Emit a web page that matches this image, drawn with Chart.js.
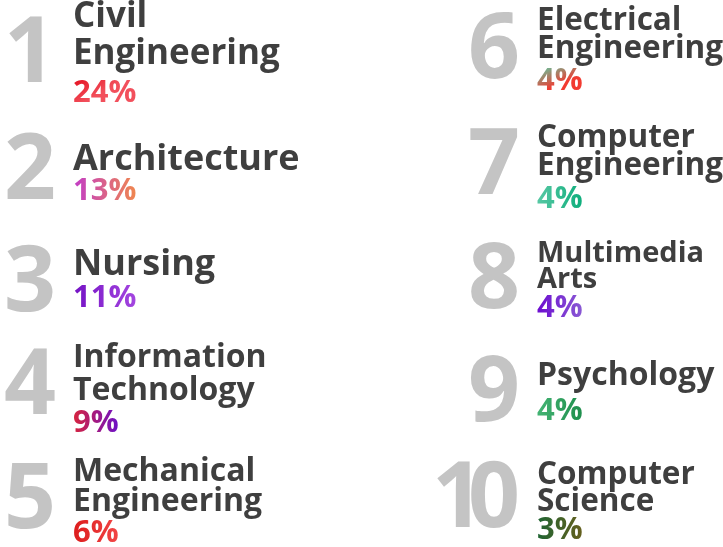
<!DOCTYPE html>
<html>
<head>
<meta charset="utf-8">
<script src="https://cdn.jsdelivr.net/npm/chart.js@4/dist/chart.umd.min.js"></script>
<style>
html,body{margin:0;padding:0;background:#fff;}
#wrap{width:723px;height:547px;position:relative;}
</style>
</head>
<body>
<div id="wrap"><canvas id="c"></canvas></div>
<script>
// ---- data ----
const ranks = [1, 2, 3, 4, 5, 6, 7, 8, 9, 10];
const majors = [
  "Civil Engineering",
  "Architecture",
  "Nursing",
  "Information Technology",
  "Mechanical Engineering",
  "Electrical Engineering",
  "Computer Engineering",
  "Multimedia Arts",
  "Psychology",
  "Computer Science"
];
const shares = [24, 13, 11, 9, 6, 4, 4, 4, 4, 3];

// ---- styles (not data) ----
const nameSizes  = [35, 36, 36, 32, 32, 31.5, 31.5, 29, 32, 31.5];
const lineGaps   = [37, 33, 33, 33, 30, 28, 28, 26, 28, 27];
const pctGaps    = [38, 30, 32, 32, 31, 32, 33, 29, 35, 28];
const blockShift = [0, 8, 2, 0, 0, -3, 2, 3, 3, 0];
const numShift   = [-2, 3, 3, -6, -4, -6, -2, 0, 1, -5];
const pctGradients = [
  ["#e41020", "#f2505c", "v"],
  ["#c23cc8", "#f0874e", "h"],
  ["#7412c4", "#a446e0", "h"],
  ["#d8243c", "#6c10c8", "h"],
  ["#dc1c1c", "#f24646", "h"],
  ["#5ec8a0", "#f23a30", "v"],
  ["#58c8a4", "#0eae7c", "h"],
  ["#6c0cd0", "#8a5ad4", "h"],
  ["#44b474", "#1e8e4c", "h"],
  ["#1e6432", "#66601e", "h"]
];
const numColor = "#c4c4c4";
const nameColor = "#3f3f3f";
const NAME_FONT = "'Open Sans', sans-serif";

const points = ranks.map(r => ({ x: r <= 5 ? 0 : 1, y: (r - 1) % 5 }));

function splitName(s) {
  const parts = s.split(" ");
  if (parts.length === 1) return parts;
  return [parts[0], parts.slice(1).join(" ")];
}

const textPlugin = {
  id: 'rankText',
  afterDatasetsDraw(chart) {
    const ctx = chart.ctx;
    const meta = chart.getDatasetMeta(0);
    meta.data.forEach((pt, i) => {
      const x = pt.x, cy = pt.y;
      const fs = nameSizes[i];
      const lines = splitName(majors[i]);
      const lh = lineGaps[i];
      const pctGap = pctGaps[i];
      const capH = fs * 0.714;
      const blockH = capH + (lines.length - 1) * lh + pctGap;
      const b1 = cy - blockH / 2 + capH + blockShift[i];
      ctx.save();
      ctx.textBaseline = "alphabetic";
      // rank number
      ctx.font = "700 91px " + NAME_FONT;
      ctx.fillStyle = numColor;
      ctx.textAlign = "left";
      const label = String(ranks[i]);
      const ls = -16;
      let widths = [...label].map(ch => ctx.measureText(ch).width);
      let total = widths.reduce((a, b) => a + b, 0) + ls * (label.length - 1);
      let nx = x - 17 - total;
      [...label].forEach((ch, k) => {
        ctx.fillText(ch, nx, cy + 32 + numShift[i]);
        nx += widths[k] + ls;
      });
      // name
      ctx.font = "700 " + fs + "px " + NAME_FONT;
      ctx.fillStyle = nameColor;
      lines.forEach((ln, k) => ctx.fillText(ln, x, b1 + k * lh));
      // percent
      const pb = b1 + (lines.length - 1) * lh + pctGap;
      ctx.font = "700 31px " + NAME_FONT;
      const txt = shares[i] + "%";
      const w = ctx.measureText(txt).width;
      const g = pctGradients[i];
      const grad = g[2] === "v"
        ? ctx.createLinearGradient(x, pb - 22, x + w * 0.2, pb)
        : ctx.createLinearGradient(x, pb, x + w, pb);
      grad.addColorStop(0, g[0]);
      grad.addColorStop(1, g[1]);
      ctx.fillStyle = grad;
      ctx.fillText(txt, x, pb);
      ctx.restore();
    });
  }
};

new Chart(document.getElementById('c'), {
  type: 'scatter',
  data: {
    datasets: [{
      label: 'Share of graduates',
      data: points,
      pointRadius: 0,
      pointHoverRadius: 0
    }]
  },
  options: {
    responsive: true,
    maintainAspectRatio: false,
    animation: false,
    layout: { padding: 0 },
    plugins: { legend: { display: false }, tooltip: { enabled: false } },
    scales: {
      x: { type: 'linear', display: false, min: -0.1573, max: 1.4009 },
      y: { type: 'linear', display: false, reverse: true, min: -0.4643, max: 4.4196 }
    }
  },
  plugins: [textPlugin]
});
</script>
</body>
</html>
